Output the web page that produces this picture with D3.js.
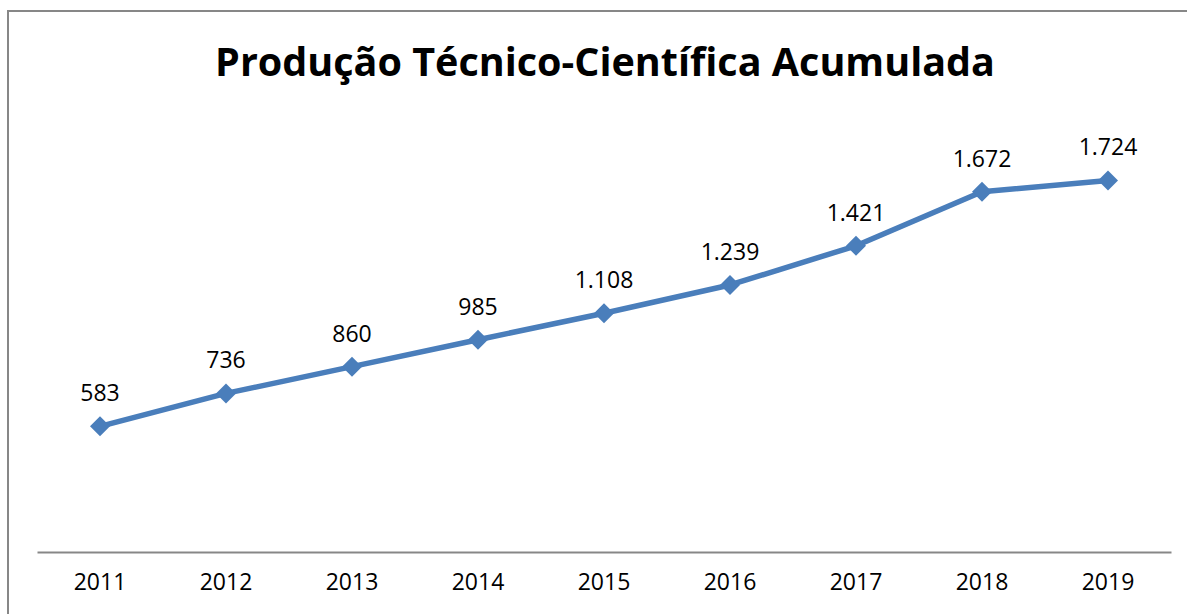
<!DOCTYPE html>
<html>
<head>
<meta charset="utf-8">
<script src="https://cdn.jsdelivr.net/npm/d3@7"></script>
<style>
  html, body { margin: 0; padding: 0; background: #fff; }
  svg { display: block; }
</style>
</head>
<body>
<div id="wrap"></div>
<script>
//  chart values
const years = ["2011", "2012", "2013", "2014", "2015", "2016", "2017", "2018", "2019"];
const totals = [583, 736, 860, 985, 1108, 1239, 1421, 1672, 1724];
const labels = ["583", "736", "860", "985", "1.108", "1.239", "1.421", "1.672", "1.724"];
const titleText = "Produção Técnico-Científica Acumulada";

const W = 1187, H = 614;
const margin = { top: 121, left: 37, right: 16, bottom: 62 };
const width = W - margin.left - margin.right,
  height = H - margin.top - margin.bottom;

const svg = d3.select("#wrap").append("svg")
  .attr("width", W).attr("height", H);

//  chart frame (only left and top edges are inside the picture)
svg.append("path")
  .attr("d", "M8,614 V11 H1187")
  .attr("fill", "none")
  .attr("stroke", "#878787")
  .attr("stroke-width", 2);

const g = svg.append("g")
  .attr("transform", "translate(" + margin.left + "," + margin.top + ")");

const x = d3.scaleBand().domain(years).range([0, width]);
const y = d3.scaleLinear().domain([0, 2000]).range([height, 0]);

//  title, squeezed to the width it has in the reference
const title = svg.append("text")
  .attr("x", 605).attr("y", 76)
  .attr("text-anchor", "middle")
  .style("font-family", "'Open Sans', 'DejaVu Sans', sans-serif")
  .style("font-weight", "bold")
  .style("font-size", "36px")
  .text(titleText);
const tw = title.node().getComputedTextLength();
title.style("font-size", (36 * 780 / tw).toFixed(2) + "px");

//  bottom axis: just the line and the year labels
const xAxis = g.append("g")
  .attr("transform", "translate(0," + height + ")")
  .call(d3.axisBottom(x).tickSize(0).tickPadding(22));
xAxis.select(".domain").attr("stroke", "#878787").attr("stroke-width", 2);
xAxis.selectAll("text")
  .style("font-family", "'Open Sans', sans-serif")
  .style("font-size", "23px")
  .attr("fill", "#000");

const cx = (d, i) => x(years[i]) + x.bandwidth() / 2;

const line = d3.line()
  .x((d, i) => cx(d, i))
  .y(d => y(d));

g.append("path")
  .datum(totals)
  .attr("d", line)
  .attr("fill", "none")
  .attr("stroke", "#4a7ebb")
  .attr("stroke-width", 5.5)
  .attr("stroke-linejoin", "round");

g.selectAll(".marker")
  .data(totals)
  .enter()
  .append("path")
  .attr("class", "marker")
  .attr("d", d3.symbol(d3.symbolSquare, 200))
  .attr("transform", (d, i) => "translate(" + cx(d, i) + "," + y(d) + ") rotate(45)")
  .attr("fill", "#4a7ebb");

g.selectAll(".lbl")
  .data(totals)
  .enter()
  .append("text")
  .attr("class", "lbl")
  .attr("x", (d, i) => cx(d, i))
  .attr("y", d => y(d) - 25)
  .attr("text-anchor", "middle")
  .style("font-family", "'Open Sans', sans-serif")
  .style("font-size", "23px")
  .text((d, i) => labels[i]);
</script>
</body>
</html>
